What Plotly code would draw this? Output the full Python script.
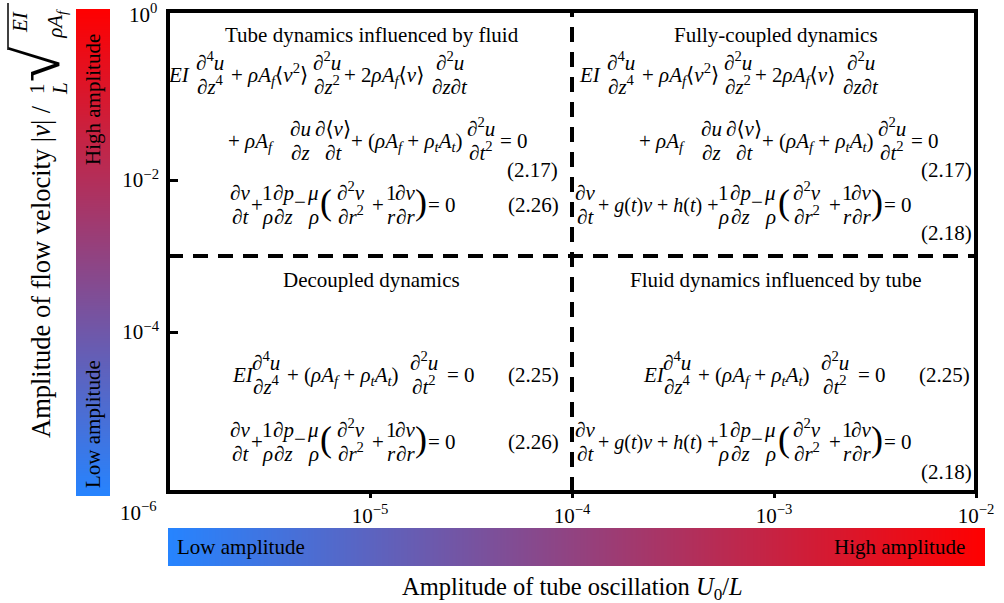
import plotly.graph_objects as go

W, H = 1004, 603
FONT = "Liberation Serif, Times New Roman, Times, DejaVu Serif, serif"

# ---- data / scales ----
X_RANGE_LOG = [-6.0, -2.0]
Y_RANGE_LOG = [-6.105, 0.224]
X_TICK_VALUES = [1e-5, 1e-4, 1e-3, 1e-2]
X_TICK_TEXT = ["10<sup>−5</sup>", "10<sup>−4</sup>", "10<sup>−3</sup>", "10<sup>−2</sup>"]
Y_TICK_VALUES = [1e-2, 1e-4]
Y_TICK_TEXT = ["10<sup>−2</sup>", "10<sup>−4</sup>"]
CORNER_Y_LABELS = ["10<sup>0</sup>", "10<sup>−6</sup>"]
BOUNDARY_U = 1e-4   # tube-oscillation threshold
BOUNDARY_V = 1e-3   # flow-velocity threshold
GRADIENT_LEVELS = [0, 1]
GRADIENT_COLORS = ["rgb(38,132,255)", "rgb(255,0,0)"]
REGION_TITLES = ["Tube dynamics influenced by fluid", "Fully-coupled dynamics",
                 "Decoupled dynamics", "Fluid dynamics influenced by tube"]
X_TITLE = "Amplitude of tube oscillation <i>U</i><sub>0</sub>/<i>L</i>"
Y_TITLE = "Amplitude of flow velocity |<i>v</i>| /"

def px(x):
    return x / W

def py(y):
    return 1 - y / H

annotations = []
shapes = []

def txt(x, y, s, size=21, xanchor="left", angle=0, color="black", yanchor="middle"):
    ys = 0.0
    if "<sup>" in s:
        ys += 1.5
    if "<sub>" in s:
        ys -= 0.8
    annotations.append(dict(
        x=px(x), y=py(y), xref="paper", yref="paper", text=s, showarrow=False,
        xanchor=xanchor, yanchor=yanchor, borderpad=0, textangle=angle, yshift=ys,
        font=dict(family=FONT, size=size, color=color)))

NUM_OFF = 12
DEN_OFF = 12

def eq_line(items, dx, y):
    for it in items:
        k = it[0]
        if k == "t":
            size = it[3] if len(it) > 3 else 21
            txt(it[1] + dx, y, it[2], size=size)
        elif k == "m":   # minus sign, lifted to the math axis
            txt(it[1] + dx, y - 3, it[2])
        elif k == "P":
            txt(it[1] + dx, y - 3, it[2], size=36)
        elif k == "f":
            txt(it[1] + dx, y - NUM_OFF, it[2], xanchor="center")
            txt(it[1] + dx, y + DEN_OFF, it[3], xanchor="center")

rhoAf = "<i>ρA<sub>f</sub></i>"
EQ217_L1 = [("t", 167, "<i>EI</i>"),
            ("f", 210, "∂<sup>4</sup><i>u</i>", "∂<i>z</i><sup>4</sup>"),
            ("t", 230, "+ " + rhoAf + "⟨<i>v</i><sup>2</sup>⟩"),
            ("f", 327, "∂<sup>2</sup><i>u</i>", "∂<i>z</i><sup>2</sup>"),
            ("t", 343, "+ 2" + rhoAf + "⟨<i>v</i>⟩"),
            ("f", 450, "∂<sup>2</sup><i>u</i>", "∂<i>z</i>∂<i>t</i>")]
EQ217_L2 = [("t", 227, "+ " + rhoAf),
            ("f", 300, "∂<i>u</i>", "∂<i>z</i>"),
            ("f", 333, "∂⟨<i>v</i>⟩", "∂<i>t</i>"),
            ("t", 350, "+ (" + rhoAf + " + <i>ρ<sub>t</sub>A<sub>t</sub></i>)"),
            ("f", 481, "∂<sup>2</sup><i>u</i>", "∂<i>t</i><sup>2</sup>"),
            ("t", 499, "= 0")]
EQ226 = [("f", 240, "∂<i>v</i>", "∂<i>t</i>"),
         ("t", 250, "+"),
         ("f", 267, "1", "<i>ρ</i>"),
         ("f", 283, "∂<i>p</i>", "∂<i>z</i>"),
         ("m", 293, "−"),
         ("f", 313, "<i>μ</i>", "<i>ρ</i>"),
         ("P", 319, "("),
         ("f", 351, "∂<sup>2</sup><i>v</i>", "∂<i>r</i><sup>2</sup>"),
         ("t", 371, "+"),
         ("f", 391, "1", "<i>r</i>"),
         ("f", 405, "∂<i>v</i>", "∂<i>r</i>"),
         ("P", 414, ")"),
         ("t", 427, "= 0")]
EQ218 = [("f", 585, "∂<i>v</i>", "∂<i>t</i>"),
         ("t", 597, "+ <i>g</i>(<i>t</i>)<i>v</i> + <i>h</i>(<i>t</i>) +", 20),
         ("f", 723, "1", "<i>ρ</i>"),
         ("f", 740, "∂<i>p</i>", "∂<i>z</i>"),
         ("m", 750, "−"),
         ("f", 770, "<i>μ</i>", "<i>ρ</i>"),
         ("P", 777, "("),
         ("f", 807, "∂<sup>2</sup><i>v</i>", "∂<i>r</i><sup>2</sup>"),
         ("t", 828, "+"),
         ("f", 847, "1", "<i>r</i>"),
         ("f", 861, "∂<i>v</i>", "∂<i>r</i>"),
         ("P", 870, ")"),
         ("t", 883, "= 0")]
EQ225 = [("t", 231, "<i>EI</i>"),
         ("f", 266, "∂<sup>4</sup><i>u</i>", "∂<i>z</i><sup>4</sup>"),
         ("t", 286, "+ (" + rhoAf + " + <i>ρ<sub>t</sub>A<sub>t</sub></i>)"),
         ("f", 424, "∂<sup>2</sup><i>u</i>", "∂<i>t</i><sup>2</sup>"),
         ("t", 446, "= 0")]

SHIFT = 411
# top-left
txt(372, 35, REGION_TITLES[0], xanchor="center")
eq_line(EQ217_L1, 0, 75)
eq_line(EQ217_L2, 0, 141)
txt(559, 170, "(2.17)", xanchor="right")
eq_line(EQ226, 0, 205)
txt(560, 205, "(2.26)", xanchor="right")
# top-right
txt(776, 35, REGION_TITLES[1], xanchor="center")
eq_line(EQ217_L1, SHIFT, 75)
eq_line(EQ217_L2, SHIFT, 141)
txt(973, 170, "(2.17)", xanchor="right")
eq_line(EQ218, 0, 205)
txt(973, 233, "(2.18)", xanchor="right")
# bottom-left
txt(371, 280, REGION_TITLES[2], xanchor="center")
eq_line(EQ225, 0, 375)
txt(560, 375, "(2.25)", xanchor="right")
eq_line(EQ226, 0, 442)
txt(560, 442, "(2.26)", xanchor="right")
# bottom-right
txt(776, 280, REGION_TITLES[3], xanchor="center")
eq_line(EQ225, SHIFT, 375)
txt(971, 375, "(2.25)", xanchor="right")
eq_line(EQ218, 0, 442)
txt(973, 472, "(2.18)", xanchor="right")

# corner tick labels
txt(158, 15, CORNER_Y_LABELS[0], size=21, xanchor="right")
txt(158, 513, CORNER_Y_LABELS[1], size=21, xanchor="right")

# axis titles
txt(572, 588, X_TITLE, size=24.5, xanchor="center")
txt(41, 272, Y_TITLE, size=26.5, xanchor="center", angle=-90)
txt(37, 89, "1", size=21, xanchor="center", angle=-90)
txt(60, 89, "<i>L</i>", size=21, xanchor="center", angle=-90)
txt(38, 64, "√", size=64, xanchor="center", angle=-90)
txt(20, 22, "<i>EI</i>", size=21, xanchor="center", angle=-90)
txt(56, 23, "<i>ρA<sub>f</sub></i>", size=21, xanchor="center", angle=-90)
shapes.append(dict(type="line", xref="paper", yref="paper",
                   x0=px(8), x1=px(8), y0=py(50), y1=py(3),
                   line=dict(color="black", width=1.5)))

# colorbar labels
txt(93, 100, "High amplitude", size=21, xanchor="center", angle=-90)
txt(93, 424, "Low amplitude", size=21, xanchor="center", angle=-90)
txt(176, 547, "Low amplitude", size=21, xanchor="left")
txt(966, 547, "High amplitude", size=21, xanchor="right")

fig = go.Figure()

# regime boundaries (dashed)
fig.add_trace(go.Scatter(x=[BOUNDARY_U, BOUNDARY_U], y=[10 ** Y_RANGE_LOG[0], 10 ** Y_RANGE_LOG[1]],
                         mode="lines", line=dict(color="black", width=4, dash="15px,10px"),
                         hoverinfo="skip", showlegend=False, xaxis="x", yaxis="y"))
fig.add_trace(go.Scatter(x=[10 ** X_RANGE_LOG[0], 10 ** X_RANGE_LOG[1]], y=[BOUNDARY_V, BOUNDARY_V],
                         mode="lines", line=dict(color="black", width=4, dash="15px,10px"),
                         hoverinfo="skip", showlegend=False, xaxis="x", yaxis="y"))

cs = [[0, GRADIENT_COLORS[0]], [1, GRADIENT_COLORS[1]]]
# vertical gradient bar
fig.add_trace(go.Heatmap(z=[[GRADIENT_LEVELS[0]] * 2, [GRADIENT_LEVELS[1]] * 2],
                         x=[0, 1], y=[0, 1], colorscale=cs, zsmooth="best",
                         showscale=False, hoverinfo="skip", xaxis="x2", yaxis="y2"))
# horizontal gradient bar
fig.add_trace(go.Heatmap(z=[GRADIENT_LEVELS, GRADIENT_LEVELS],
                         x=[0, 1], y=[0, 1], colorscale=cs, zsmooth="best",
                         showscale=False, hoverinfo="skip", xaxis="x3", yaxis="y3"))

shapes.append(dict(type="rect", xref="x domain", yref="y domain", x0=0, x1=1, y0=0, y1=1,
                   line=dict(color="black", width=4), layer="above"))

hidden = dict(visible=False, range=[0, 1], fixedrange=True, automargin=False)
fig.update_layout(
    template="none",
    width=W, height=H, margin=dict(l=0, r=0, t=0, b=0, pad=0, autoexpand=False), autosize=False,
    paper_bgcolor="white", plot_bgcolor="white",
    font=dict(family=FONT, color="black"),
    showlegend=False,
    xaxis=dict(type="log", range=X_RANGE_LOG, domain=[px(168), px(976)], automargin=False,
               tickvals=X_TICK_VALUES, ticktext=X_TICK_TEXT, ticks="outside",
               ticklen=5, tickwidth=3, tickcolor="black", showgrid=False, zeroline=False,
               showline=False, tickfont=dict(family=FONT, size=21), anchor="y"),
    yaxis=dict(type="log", range=Y_RANGE_LOG, domain=[py(492), py(11)], automargin=False,
               tickvals=Y_TICK_VALUES, ticktext=Y_TICK_TEXT, ticks="inside",
               ticklen=10, tickwidth=3, tickcolor="black", showgrid=False, zeroline=False,
               showline=False, tickfont=dict(family=FONT, size=21), anchor="x",
               ticklabelstandoff=8),
    xaxis2=dict(domain=[px(76), px(110)], anchor="y2", **hidden),
    yaxis2=dict(domain=[py(496), py(9)], anchor="x2", **hidden),
    xaxis3=dict(domain=[px(168), px(985)], anchor="y3", **hidden),
    yaxis3=dict(domain=[py(566), py(528)], anchor="x3", **hidden),
    annotations=annotations, shapes=shapes,
)

fig.write_html("out.html", config={"responsive": False})
